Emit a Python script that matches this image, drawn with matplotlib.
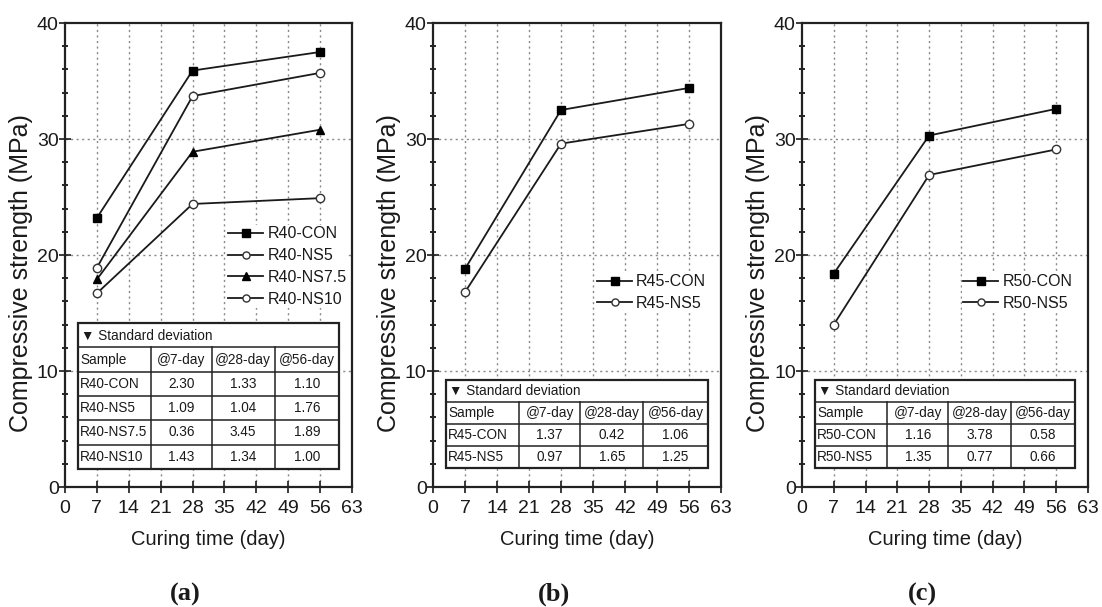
import matplotlib
matplotlib.use("Agg")
import matplotlib.pyplot as plt
from matplotlib.patches import Rectangle
from matplotlib.ticker import MultipleLocator

plt.rcParams['font.family'] = ['Liberation Sans', 'DejaVu Sans']

# ---------------- data ----------------
days = [7, 28, 56]

r40_labels = ["R40-CON", "R40-NS5", "R40-NS7.5", "R40-NS10"]
r40_con = [23.2, 35.9, 37.5]
r40_ns5 = [18.9, 33.7, 35.7]
r40_ns75 = [17.9, 28.9, 30.8]
r40_ns10 = [16.7, 24.4, 24.9]

r45_labels = ["R45-CON", "R45-NS5"]
r45_con = [18.8, 32.5, 34.4]
r45_ns5 = [16.8, 29.6, 31.3]

r50_labels = ["R50-CON", "R50-NS5"]
r50_con = [18.4, 30.3, 32.6]
r50_ns5 = [14.0, 26.9, 29.1]

table_header = ["Sample", "@7-day", "@28-day", "@56-day"]
r40_sd = [["2.30", "1.33", "1.10"],
          ["1.09", "1.04", "1.76"],
          ["0.36", "3.45", "1.89"],
          ["1.43", "1.34", "1.00"]]
r45_sd = [["1.37", "0.42", "1.06"],
          ["0.97", "1.65", "1.25"]]
r50_sd = [["1.16", "3.78", "0.58"],
          ["1.35", "0.77", "0.66"]]

x_ticks = [0, 7, 14, 21, 28, 35, 42, 49, 56, 63]
y_ticks = [0, 10, 20, 30, 40]
panel_tags = ["(a)", "(b)", "(c)"]

# ---------------- styles ----------------
styles = {
    "CON": dict(marker='s', mfc='black', mec='black'),
    "NS5": dict(marker='o', mfc='white', mec='#333333'),
    "NS7.5": dict(marker='^', mfc='black', mec='black'),
    "NS10": dict(marker='o', mfc='white', mec='#333333'),
}

fig = plt.figure(figsize=(11.02, 6.07), dpi=100)

W, H = 1102.0, 607.0
axes_px = [(65, 352), (433, 721), (802, 1088)]
top_px, bot_px = 23, 487

panels = [
    (r40_labels, [r40_con, r40_ns5, r40_ns75, r40_ns10], r40_sd, (0.563, 0.565), (0.353, 0.039)),
    (r45_labels, [r45_con, r45_ns5], r45_sd, (0.564, 0.462), (0.231, 0.041)),
    (r50_labels, [r50_con, r50_ns5], r50_sd, (0.558, 0.462), (0.231, 0.041)),
]

txt_col = '#1a1a1a'

for i, ((lx, rx), (labels, series, sd, leg_anchor, (t_top, t_bot))) in enumerate(zip(axes_px, panels)):
    ax = fig.add_axes([lx / W, 1 - bot_px / H, (rx - lx) / W, (bot_px - top_px) / H])
    for lab, vals in zip(labels, series):
        key = lab.split('-')[1]
        st = styles[key]
        ax.plot(days, vals, color='#1a1a1a', lw=1.3, ms=6, mew=1.0,
                label=lab, zorder=3, **st)

    ax.set_xlim(0, 63)
    ax.set_ylim(0, 40)
    ax.set_xticks(x_ticks)
    ax.set_yticks(y_ticks)
    ax.yaxis.set_minor_locator(MultipleLocator(2))
    ax.tick_params(axis='both', which='major', direction='inout', length=9, width=1.2,
                   labelsize=14, colors=txt_col, top=False, right=False)
    ax.tick_params(axis='y', which='minor', direction='inout', length=5, width=1.2,
                   right=False)
    ax.tick_params(axis='y', pad=0)
    ax.tick_params(axis='x', pad=5)
    for s in ax.spines.values():
        s.set_linewidth(1.6)
        s.set_color('#222222')

    # grid
    for g in x_ticks[1:-1]:
        ax.axvline(g, color='#888888', lw=1.0, ls=(0, (1.5, 2.5)), zorder=1)
    for g in y_ticks[1:-1]:
        ax.axhline(g, color='#888888', lw=1.0, ls=(0, (1.5, 2.5)), zorder=1)

    ax.set_xlabel("Curing time (day)", fontsize=14.5, color=txt_col)
    ax.xaxis.set_label_coords(0.5, -0.092)
    ax.set_ylabel("Compressive strength (MPa)", fontsize=18, color=txt_col)
    ax.yaxis.set_label_coords(-0.112, 0.46)

    leg = ax.legend(loc='upper left', bbox_to_anchor=leg_anchor, fontsize=11.5,
                    frameon=True, facecolor='white', edgecolor='none', framealpha=1,
                    handlelength=2.2, handletextpad=0.25, labelspacing=0.42,
                    borderpad=0.1, borderaxespad=0, markerscale=0.85)
    leg.set_zorder(4)
    for t in leg.get_texts():
        t.set_color(txt_col)

    # ---- standard deviation table ----
    tl, tr = 0.045, 0.955
    nrows = 2 + len(sd)
    rh = (t_top - t_bot) / nrows
    tf = ax.transAxes
    ax.add_patch(Rectangle((tl, t_bot), tr - tl, t_top - t_bot, transform=tf,
                           facecolor='white', edgecolor='#222222', lw=1.6, zorder=5))
    col_f = [0.0, 0.279, 0.513, 0.753, 1.0]
    col_x = [tl + (tr - tl) * c for c in col_f]
    for r in range(1, nrows):
        y = t_top - r * rh
        ax.plot([tl, tr], [y, y], transform=tf, color='#222222', lw=1.1, zorder=6)
    for cx in col_x[1:-1]:
        ax.plot([cx, cx], [t_bot, t_top - rh], transform=tf, color='#222222', lw=1.1, zorder=6)
    fs_t = 9.8
    ax.text(tl + 0.012, t_top - rh / 2, "\u25bc Standard deviation", transform=tf,
            ha='left', va='center', fontsize=fs_t, color=txt_col, zorder=7)
    rows = [table_header] + [[labels[k]] + sd[k] for k in range(len(sd))]
    for r, row in enumerate(rows):
        y = t_top - (r + 1.5) * rh
        for c, cell in enumerate(row):
            if c == 0:
                ax.text(col_x[0] + 0.008, y, cell, transform=tf, ha='left', va='center',
                        fontsize=fs_t, color=txt_col, zorder=7)
            else:
                ax.text((col_x[c] + col_x[c + 1]) / 2, y, cell, transform=tf,
                        ha='center', va='center', fontsize=fs_t, color=txt_col, zorder=7)

    fig.text(((lx + rx) / 2 - 23) / W, 1 - 594 / H, panel_tags[i], ha='center', va='center',
             fontsize=19, fontweight='bold', family='Liberation Serif', color=txt_col)

fig.savefig("out.png", dpi=100, facecolor='white')
